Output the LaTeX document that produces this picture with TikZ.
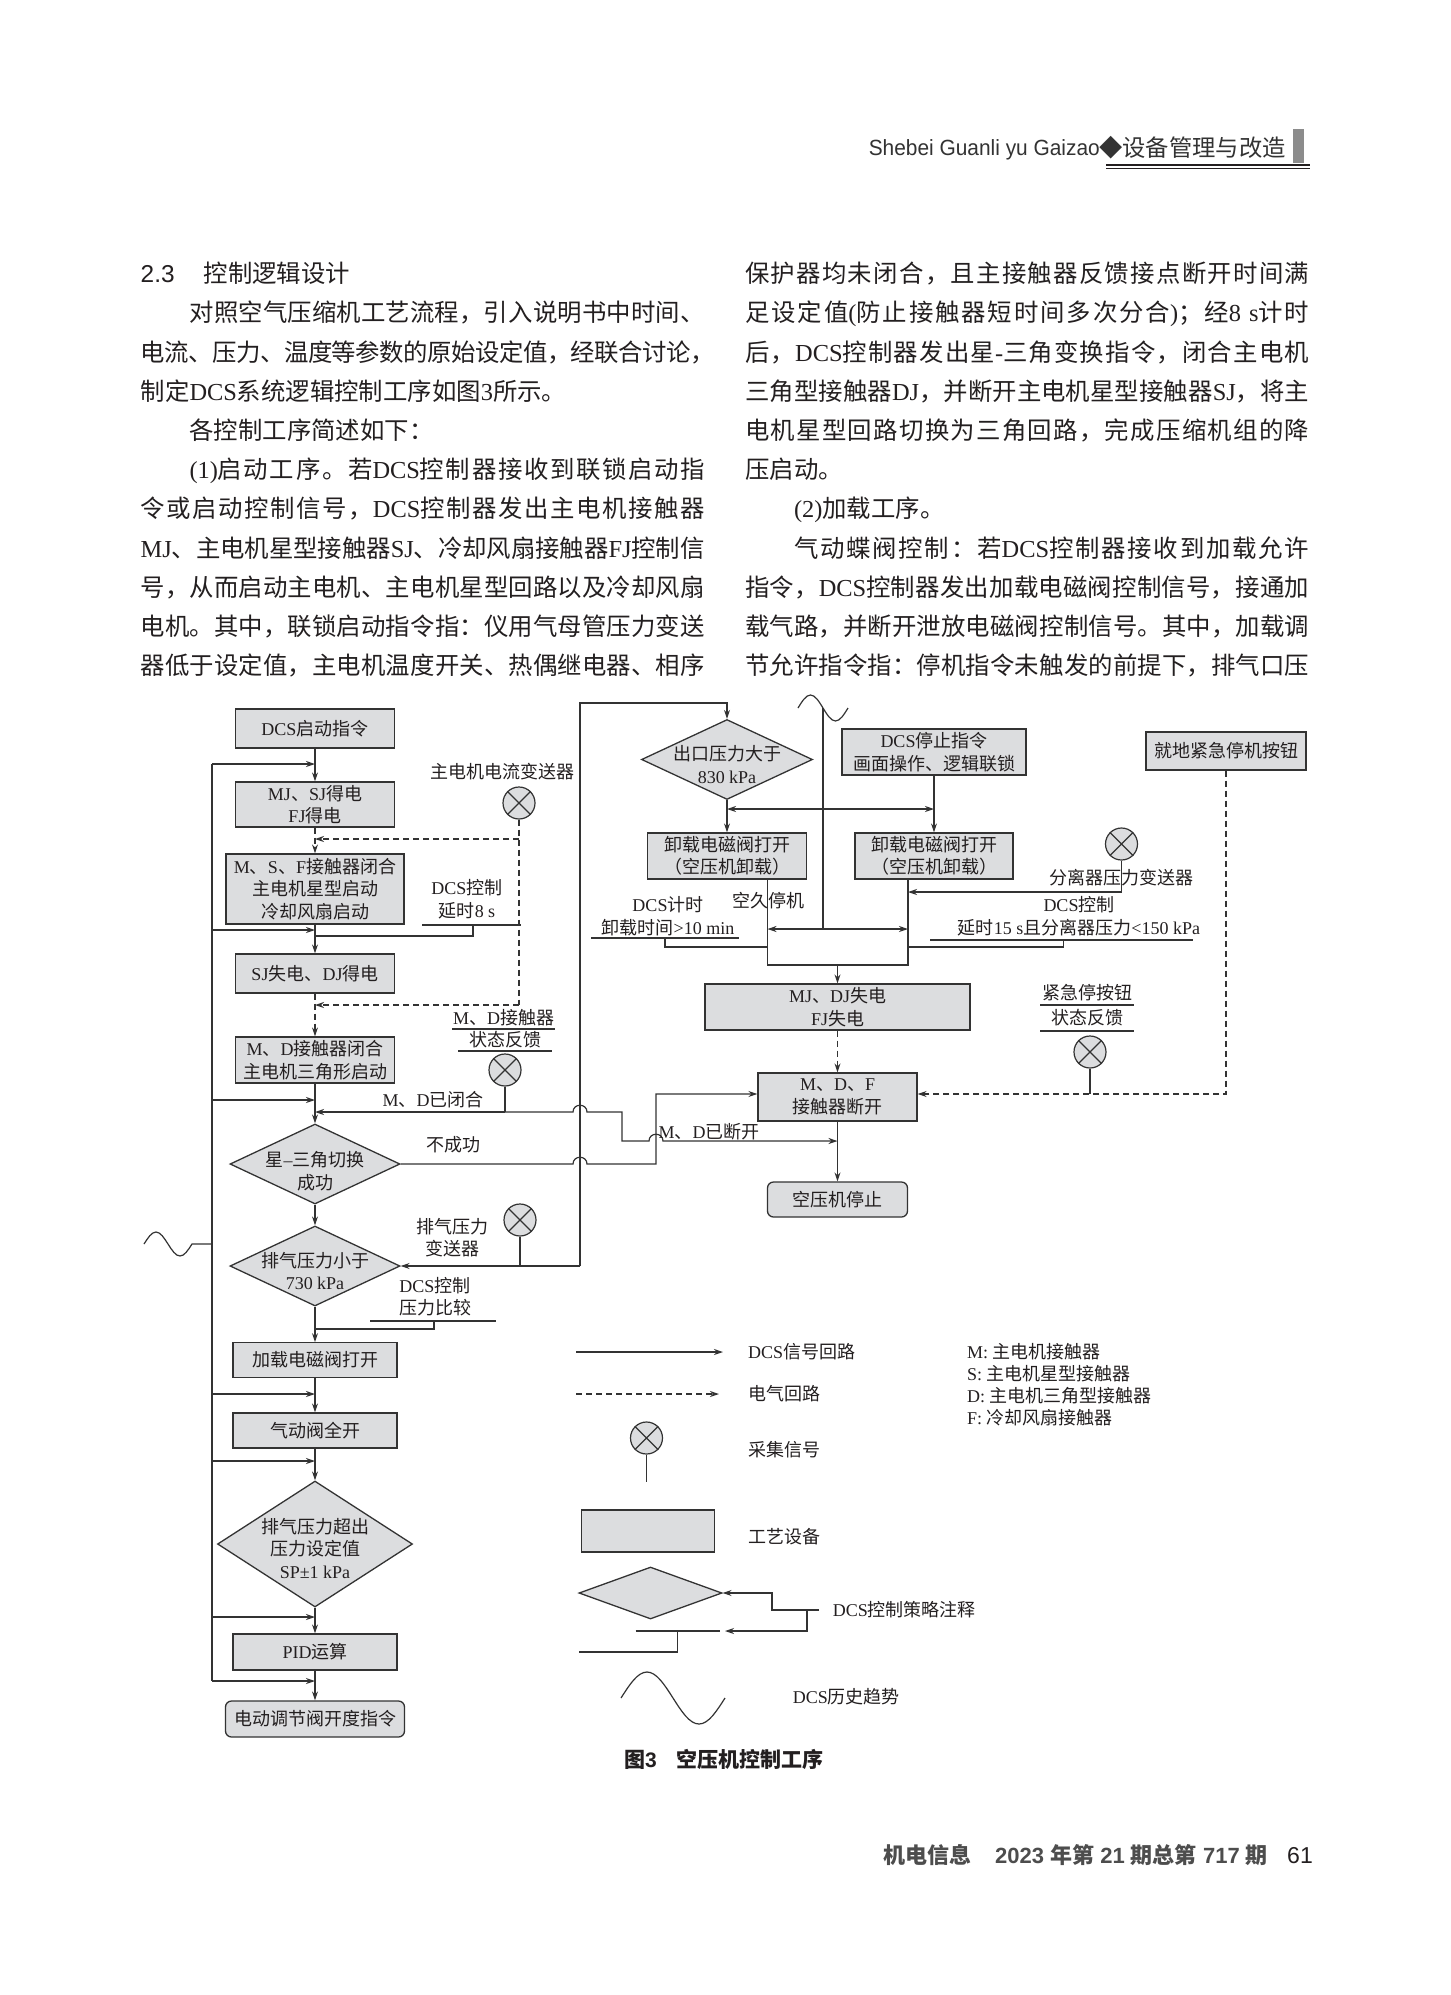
\documentclass[tikz,border=0pt]{standalone}
\usepackage{fontspec}
\usepackage{graphicx}
\usetikzlibrary{arrows.meta,shapes.geometric,calc}
\setmainfont{Liberation Serif}
\setsansfont{Liberation Sans}
\newfontfamily\cjk{Noto Sans CJK SC}
\def\latf{\rmfamily}
\ifdefined\newXeTeXintercharclass
  \newXeTeXintercharclass\cjkcls
\else
  \chardef\cjkcls=10
\fi
\newcount\cjkcnt
\cjkcnt="3000
\loop\ifnum\cjkcnt<"3040 \XeTeXcharclass\cjkcnt=\cjkcls\relax\advance\cjkcnt by 1\relax\repeat
\cjkcnt="4E00
\loop\ifnum\cjkcnt<"A000 \XeTeXcharclass\cjkcnt=\cjkcls\relax\advance\cjkcnt by 1\relax\repeat
\cjkcnt="FF00
\loop\ifnum\cjkcnt<"FFF0 \XeTeXcharclass\cjkcnt=\cjkcls\relax\advance\cjkcnt by 1\relax\repeat
\XeTeXcharclass"25C6=\cjkcls\relax
\XeTeXinterchartoks 0 \cjkcls = {\cjk}
\XeTeXinterchartoks 4095 \cjkcls = {\cjk}
\XeTeXinterchartoks \cjkcls 0 = {\latf}
\XeTeXinterchartoks \cjkcls 4095 = {\latf}
\XeTeXinterchartoks \cjkcls \cjkcls = {\hskip0pt plus 3pt minus 0.5pt\relax}
\XeTeXinterchartokenstate=1
\definecolor{ln}{HTML}{333333}
\definecolor{txt}{HTML}{231F20}
\definecolor{boxg}{HTML}{DCDDDF}
\definecolor{hd}{HTML}{333333}
\definecolor{ft}{HTML}{4D4D4D}
\definecolor{barg}{HTML}{8C8C8C}
\newcommand\dfont{\fontsize{18}{22.5}\selectfont}
\newcommand\bfont{\fontsize{24.4}{24.4}\selectfont}
\tikzset{
  lin/.style={draw=ln, line width=1.2pt},
  arr/.style={lin, -{Stealth[length=9pt,width=6pt]}},
  dbl/.style={lin, {Stealth[length=9pt,width=6pt]}-{Stealth[length=9pt,width=6pt]}},
  darr/.style={arr, dash pattern=on 6pt off 4pt},
  dln/.style={lin, dash pattern=on 6pt off 4pt},
  pbox/.style={draw=ln, line width=1.3pt, fill=boxg, inner sep=0pt, align=center, font=\dfont, text=txt},
  rbox/.style={pbox, rounded corners=6pt},
  dia/.style={diamond, draw=ln, line width=1.3pt, fill=boxg, inner sep=0pt},
  lab/.style={inner sep=0pt, align=center, font=\dfont, text=txt},
  sensor/.style={circle, draw=ln, line width=1.2pt, fill=boxg, minimum size=32pt, inner sep=0pt},
  body/.style={anchor=base west, inner sep=0pt, font=\bfont, text=txt},
}
\newcommand\sens[3]{\node[sensor] (#1) at (#2,#3) {};
  \draw[lin] (#1.north west) -- (#1.south east) (#1.north east) -- (#1.south west);}
\newcommand\bj[4]{\node[body] (#1) at (#2,#3) {\hbox to 564pt{#4}};}
\newcommand\bn[4]{\node[body] (#1) at (#2,#3) {#4};}
\begin{document}
\begin{tikzpicture}[x=1pt,y=-1pt]
\useasboundingbox (0,0) rectangle (1451,1995);
\fill[white] (0,0) rectangle (1451,1995);
% ---------------- header ----------------
\node[anchor=base east, inner sep=0pt, font=\fontsize{22}{22}\selectfont\sffamily, text=hd] (hdl) at (1100,155.5) {\resizebox{231pt}{\height}{Shebei Guanli yu Gaizao}};
\node[anchor=base west, inner sep=0pt, font=\fontsize{23.3}{23.3}\selectfont, text=hd] (hdr) at (1099,156) {◆设备管理与改造};
\fill[barg] (1293,129) rectangle (1304,163);
\draw[draw=txt, line width=2pt] (1106,165.2) -- (1310,165.2);
\draw[draw=txt, line width=0.8pt] (1106,168.7) -- (1310,168.7);
% ---------------- body text ----------------
\bn{L0}{140.5}{282.7}{\def\latf{\sffamily}\sffamily 2.3\hskip 29pt 控制逻辑设计}
\bj{L1}{140.5}{321.9}{\hskip48.8pt 对照空气压缩机工艺流程，引入说明书中时间、}
\bj{L2}{140.5}{361.1}{电流、压力、温度等参数的原始设定值，经联合讨论，}
\bn{L3}{140.5}{400.3}{制定DCS系统逻辑控制工序如图3所示。}
\bn{L4}{140.5}{439.5}{\hskip48.8pt 各控制工序简述如下：}
\bj{L5}{140.5}{478.7}{\hskip48.8pt (1)启动工序。若DCS控制器接收到联锁启动指}
\bj{L6}{140.5}{517.9}{令或启动控制信号，DCS控制器发出主电机接触器}
\bj{L7}{140.5}{557.1}{MJ、主电机星型接触器SJ、冷却风扇接触器FJ控制信}
\bj{L8}{140.5}{596.3}{号，从而启动主电机、主电机星型回路以及冷却风扇}
\bj{L9}{140.5}{635.5}{电机。其中，联锁启动指令指：仪用气母管压力变送}
\bj{L10}{140.5}{674.7}{器低于设定值，主电机温度开关、热偶继电器、相序}
\bj{R0}{745}{282.7}{保护器均未闭合，且主接触器反馈接点断开时间满}
\bj{R1}{745}{321.9}{足设定值(防止接触器短时间多次分合)；经8 s计时}
\bj{R2}{745}{361.1}{后，DCS控制器发出星-三角变换指令，闭合主电机}
\bj{R3}{745}{400.3}{三角型接触器DJ，并断开主电机星型接触器SJ，将主}
\bj{R4}{745}{439.5}{电机星型回路切换为三角回路，完成压缩机组的降}
\bn{R5}{745}{478.7}{压启动。}
\bn{R6}{745}{517.9}{\hskip48.8pt (2)加载工序。}
\bj{R7}{745}{557.1}{\hskip48.8pt 气动蝶阀控制：若DCS控制器接收到加载允许}
\bj{R8}{745}{596.3}{指令，DCS控制器发出加载电磁阀控制信号，接通加}
\bj{R9}{745}{635.5}{载气路，并断开泄放电磁阀控制信号。其中，加载调}
\bj{R10}{745}{674.7}{节允许指令指：停机指令未触发的前提下，排气口压}
% ---------------- left main column ----------------
\node[pbox, minimum width=159pt, minimum height=39pt] (start) at (315,728.5) {DCS启动指令};
\node[pbox, minimum width=159pt, minimum height=45pt] (mjsj) at (315,804.5) {MJ、SJ得电\\FJ得电};
\node[pbox, minimum width=178pt, minimum height=70pt] (msf) at (315,889) {M、S、F接触器闭合\\主电机星型启动\\冷却风扇启动};
\node[pbox, minimum width=159pt, minimum height=39pt] (sjdj) at (315,973.5) {SJ失电、DJ得电};
\node[pbox, minimum width=159pt, minimum height=46pt] (md) at (315,1060) {M、D接触器闭合\\主电机三角形启动};
\node[dia, minimum width=170pt, minimum height=80pt] (d1) at (315,1164) {};
\node[lab] (d1t) at ($(d1)+(0,7)$) {星–三角切换\\成功};
\node[dia, minimum width=170pt, minimum height=80pt] (d2) at (315,1266) {};
\node[lab] (d2t) at ($(d2)+(0,5)$) {排气压力小于\\730 kPa};
\node[pbox, minimum width=164pt, minimum height=34.5pt] (load) at (315,1360) {加载电磁阀打开};
\node[pbox, minimum width=164pt, minimum height=35pt] (pneu) at (315,1430.5) {气动阀全开};
\node[dia, minimum width=195pt, minimum height=126pt] (d3) at (315,1544) {};
\node[lab] (d3t) at ($(d3)+(0,4)$) {排气压力超出\\压力设定值\\SP±1 kPa};
\node[pbox, minimum width=164pt, minimum height=36pt] (pid) at (315,1652) {PID运算};
\node[rbox, minimum width=179pt, minimum height=36pt] (fin) at (315,1719) {电动调节阀开度指令};
\draw[arr] (start.south) -- (mjsj.north);
\draw[darr] (mjsj.south) -- (msf.north);
\draw[arr] (msf.south) -- (sjdj.north);
\draw[darr] (sjdj.south) -- (md.north);
\draw[arr] (md.south) -- (d1.north);
\draw[arr] (d1.south) -- (d2.north);
\draw[arr] (d2.south) -- (load.north);
\draw[arr] (load.south) -- (pneu.north);
\draw[arr] (pneu.south) -- (d3.north);
\draw[arr] (d3.south) -- (pid.north);
\draw[arr] (pid.south) -- (fin.north);
% bus
\coordinate (bt) at (212,764);
\coordinate (bb) at (212,1681);
\draw[lin] (bt) -- (bb);
\foreach \yy [count=\i] in {764,930,1100,1394,1461,1617,1681} {
  \coordinate (b\i) at (212,\yy);
  \coordinate (m\i) at (315,\yy);
  \draw[arr] (b\i) -- (m\i);
}
% left wave
\coordinate (lw) at (192,1244);
\coordinate (lwb) at (212,1244);
\draw[lin] (144,1244) sin (156,1232) cos (168,1244) sin (180,1256) cos (lw) -- (lwb);
% motor current transmitter
\sens{s1}{519}{803}
\node[lab] (s1t) at (502.5,771.7) {主电机电流变送器};
\coordinate (s1a) at (519,839);
\coordinate (s1b) at (519,1005);
\coordinate (ja) at (315,839);
\coordinate (jb) at (315,1005);
\draw[dln] (s1.south) -- (s1b);
\draw[darr] (s1a) -- (ja);
\draw[darr] (s1b) -- (jb);
% 8 s delay
\node[lab] (t8) at (467,899) {DCS控制\\延时8 s};
\coordinate (u8a) at (422,925);
\coordinate (u8b) at (521,925);
\coordinate (u8c) at (473,925);
\coordinate (j8) at (315,936);
\draw[lin] (u8a) -- (u8b);
\draw[lin] (u8c) |- (j8);
% M D feedback
\node[lab] (mdf1) at (503.5,1018) {M、D接触器};
\node[lab] (mdf2) at (505,1040) {状态反馈};
\draw[lin] (452,1029) -- (555,1029);
\draw[lin] (458,1051) -- (552,1051);
\sens{s2}{505}{1070}
\coordinate (s2j) at (505,1112);
\coordinate (jc) at (315,1112);
\draw[lin] (s2.south) -- (s2j);
\draw[arr] (s2j) -- (jc);
\node[lab] (mdc) at (433,1100) {M、D已闭合};
% exhaust pressure transmitter
\sens{s5}{520}{1220}
\node[lab] (s5t) at (452,1237.5) {排气压力\\变送器};
\coordinate (jv) at (580,1266);
\coordinate (jvt) at (580,703);
\coordinate (tc) at (727,703);
\draw[lin] (s5.south) -- (520,1266);
\draw[arr] (jv) -- (d2.east);
% DCS pressure compare
\node[lab] (pc) at (435,1296.5) {DCS控制\\压力比较};
\coordinate (pca) at (370,1321);
\coordinate (pcb) at (496,1321);
\coordinate (pcc) at (434,1321);
\coordinate (pcj) at (315,1329);
\draw[lin] (pca) -- (pcb);
\draw[lin] (pcc) |- (pcj);
% ---------------- right part ----------------
\node[dia, minimum width=171pt, minimum height=80pt] (d830) at (727,759.5) {};
\node[lab] (d830t) at ($(d830)+(0,5)$) {出口压力大于\\830 kPa};
\draw[arr] (jv) -- (jvt) -- (tc) -- (d830.north);
\node[pbox, minimum width=184pt, minimum height=46pt] (stop) at (934,752) {DCS停止指令\\画面操作、逻辑联锁};
\node[pbox, minimum width=160pt, minimum height=38pt] (esb) at (1226,751) {就地紧急停机按钮};
\node[pbox, minimum width=159pt, minimum height=46pt] (ul1) at (727,856) {卸载电磁阀打开\\（空压机卸载）};
\node[pbox, minimum width=158pt, minimum height=46pt] (ul2) at (934,856) {卸载电磁阀打开\\（空压机卸载）};
\draw[arr] (d830.south) -- (ul1.north);
\draw[arr] (stop.south) -- (ul2.north);
\coordinate (h1) at (727,809);
\coordinate (h2) at (934,809);
\draw[dbl] (h1) -- (h2);
% top wave
\coordinate (wt) at (823,708);
\coordinate (wv) at (823,929);
\draw[lin] (798,708) sin (810.5,695) cos (wt) sin (835.5,721) cos (848,708);
\draw[lin] (wv) -- (wt);
% collector under unload valves
\coordinate (c1) at (767.5,965);
\coordinate (c2) at (908,965);
\coordinate (c3) at (837.5,965);
\draw[lin] (ul1.south -| c1) -- (c1) -- (c2) -- (ul2.south -| c2);
\coordinate (e1) at (767.5,929);
\coordinate (e2) at (908,929);
\draw[dbl] (e1) -- (e2);
% separator pressure
\sens{s3}{1121.5}{844}
\coordinate (s3j) at (1121.5,892);
\coordinate (s3e) at (908,892);
\draw[arr] (s3.south) -- (s3j) -- (s3e);
\node[lab, fill=white, fill opacity=0, text opacity=1] (s3t) at (1121,878) {分离器压力变送器};
% DCS timer
\node[lab] (tm1) at (668,905) {DCS计时};
\node[lab] (tm2) at (668,928) {卸载时间>10 min};
\draw[lin] (591,938) -- (739,938);
\coordinate (tmc) at (665,938);
\coordinate (tmj) at (767.5,947);
\draw[lin] (tmc) |- (tmj);
\node[lab] (kj) at (768,901) {空久停机};
% DCS control 15 s
\node[lab] (dc1) at (1079,905) {DCS控制};
\node[lab] (dc2) at (1079,928) {延时15 s且分离器压力<150 kPa};
\draw[lin] (930,940) -- (1193,940);
\coordinate (dcc) at (1063.6,940);
\coordinate (dcj) at (908,947);
\draw[lin] (dcc) |- (dcj);
% MJ DJ off, MDF open, stop
\node[pbox, minimum width=265pt, minimum height=46pt] (mjdj) at (837.5,1007) {MJ、DJ失电\\FJ失电};
\node[pbox, minimum width=159pt, minimum height=48pt] (mdf) at (837.5,1097) {M、D、F\\接触器断开};
\node[rbox, minimum width=140pt, minimum height=35pt] (cstop) at (837.5,1199.5) {空压机停止};
\draw[arr] (c3) -- (mjdj.north);
\draw[darr] (mjdj.south) -- (mdf.north);
\draw[arr] (mdf.south) -- (cstop.north);
% emergency stop feedback
\node[lab] (es1) at (1087,993) {紧急停按钮};
\node[lab] (es2) at (1087,1018) {状态反馈};
\draw[lin] (1040,1005) -- (1134,1005);
\draw[lin] (1040,1031) -- (1134,1031);
\sens{s4}{1090}{1052}
\coordinate (s4j) at (1090,1094);
\draw[lin] (s4.south) -- (s4j);
\coordinate (ej) at (1226,1094);
\draw[darr] (esb.south) -- (ej) -- (mdf.east |- ej);
% failure path and M D opened path (with hops)
\coordinate (k1) at (656,1094);
\draw[arr] (d1.east) -- (573,1164) .. controls (573,1155) and (587,1155) .. (587,1164) -- (656,1164) -- (k1) -- (mdf.west |- k1);
\node[lab] (nok) at (453,1145) {不成功};
\coordinate (k2) at (837.5,1141);
\draw[arr] (s2j) -- (573,1112) .. controls (573,1103) and (587,1103) .. (587,1112) -- (622,1112) -- (622,1141) -- (649,1141) .. controls (649,1132) and (663,1132) .. (663,1141) -- (k2);
\node[lab] (mdo) at (709,1132) {M、D已断开};
% ---------------- legend ----------------
\coordinate (lg1a) at (576,1352);
\coordinate (lg1b) at (723,1352);
\draw[arr] (lg1a) -- (lg1b);
\node[lab, anchor=west] (lg1t) at (748,1352) {DCS信号回路};
\coordinate (lg2a) at (576,1394);
\coordinate (lg2b) at (719,1394);
\draw[darr] (lg2a) -- (lg2b);
\node[lab, anchor=west] (lg2t) at (748,1394) {电气回路};
\sens{s6}{646.5}{1438}
\coordinate (s6j) at (646.5,1482);
\draw[lin] (s6.south) -- (s6j);
\node[lab, anchor=west] (lg3t) at (748,1450) {采集信号};
\node[pbox, minimum width=132.5pt, minimum height=42pt] (lgbox) at (648,1531) {};
\node[lab, anchor=west] (lg4t) at (748,1537) {工艺设备};
\node[dia, minimum width=143pt, minimum height=52pt] (lgdia) at (650.5,1593) {};
\coordinate (la1) at (819,1610);
\coordinate (la2) at (772,1610);
\coordinate (la3) at (807,1610);
\coordinate (la4) at (725,1631);
\draw[arr] (la1) -- (la2) |- (lgdia.east);
\draw[arr] (la3) |- (la4);
\node[lab, anchor=west] (lg5t) at (832.6,1610) {DCS控制策略注释};
\draw[lin] (635.5,1631) -- (720,1631);
\coordinate (lb1) at (677.5,1631);
\coordinate (lb2) at (579,1652);
\draw[lin] (lb1) |- (lb2);
\draw[lin] (621,1698) sin (647,1672) cos (673,1698) sin (699,1724) cos (725,1698);
\node[lab, anchor=west] (lg6t) at (792.6,1697) {DCS历史趋势};
\node[lab, anchor=west] (ab1) at (967,1352) {M: 主电机接触器};
\node[lab, anchor=west] (ab2) at (967,1374) {S: 主电机星型接触器};
\node[lab, anchor=west] (ab3) at (967,1396) {D: 主电机三角型接触器};
\node[lab, anchor=west] (ab4) at (967,1418) {F: 冷却风扇接触器};
% caption
\node[anchor=west, inner sep=0pt, font=\fontsize{21}{21}\selectfont\bfseries\sffamily, text=txt] (cap) at (624,1759) {\def\latf{\sffamily}图3\hskip 20pt 空压机控制工序};
% ---------------- footer ----------------
\node[anchor=base west, inner sep=0pt, font=\fontsize{22}{22}\selectfont\bfseries\sffamily, text=ft] (ft1) at (883,1863) {\def\latf{\sffamily}机电信息};
\node[anchor=base west, inner sep=0pt, font=\fontsize{22}{22}\selectfont\bfseries\sffamily, text=ft] (ft2) at (995,1863) {\def\latf{\sffamily}2023 年第 21 期总第 717 期};
\node[anchor=base east, inner sep=0pt, font=\fontsize{23}{23}\selectfont\sffamily, text=txt] (ft3) at (1313,1863) {61};
\end{tikzpicture}
\end{document}
